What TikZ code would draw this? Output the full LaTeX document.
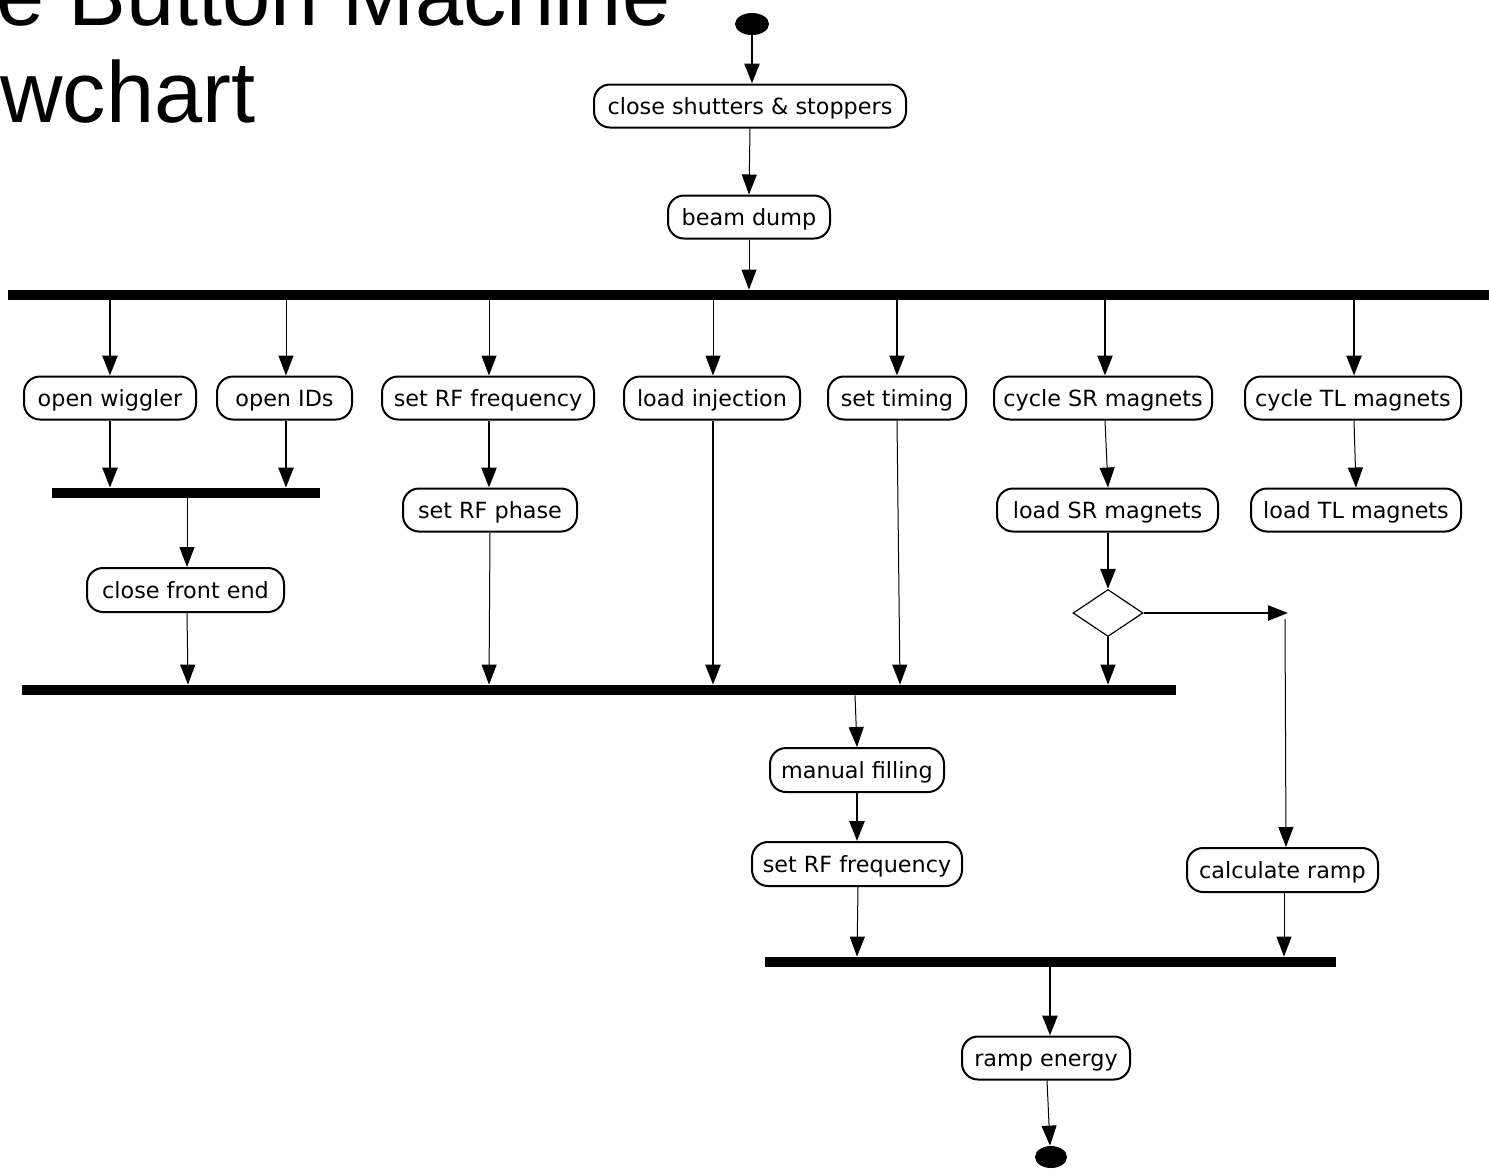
\documentclass[tikz,border=0pt]{standalone}
\usepackage{fontspec}
\usetikzlibrary{shapes.geometric,arrows.meta}
\newfontfamily\nodefont{DejaVu Sans}
\newfontfamily\titlefont{Liberation Sans}

\tikzset{
  act/.style={draw, line width=1pt, rounded corners=8pt, minimum height=21.5pt,
              inner sep=0pt, text height=9.2pt, text depth=0.6pt, fill=white,
              font=\nodefont\fontsize{11.15}{13}\selectfont},
  syncbar/.style={fill=black, draw=none, minimum height=5pt, inner sep=0pt},
  dot/.style={ellipse, fill=black, inner sep=0pt},
  choice/.style={diamond, draw, line width=0.6pt, inner sep=0pt},
  flow/.style={-{Triangle[length=10pt,width=7.5pt]}},
  heavy/.style={flow, line width=1.25pt},
  light/.style={flow, line width=0.5pt},
}

\begin{document}
\begin{tikzpicture}[x=0.5pt, y=-0.5pt]
\useasboundingbox (0,0) rectangle (1489,1174);
\clip (0,0) rectangle (1489,1174);

% heading
\node[anchor=base west, inner sep=0pt, font=\titlefont\fontsize{43.3}{52}\selectfont] (t1) at (-4,25) {e Button Machine};
\node[anchor=base west, inner sep=0pt, font=\titlefont\fontsize{43.3}{52}\selectfont] (t2) at (0,122) {wchart};

% start and stop
\node[dot, minimum width=17pt, minimum height=11pt] (start) at (752,24) {};
\node[dot, minimum width=16pt, minimum height=11pt] (stop) at (1051,1157) {};

% activities
\node[act, minimum width=156pt] (close) at (750,106) {close shutters \& stoppers};
\node[act, minimum width=81pt] (dump) at (749,217) {beam dump};

\node[act, minimum width=86pt] (wig) at (110,398) {open wiggler};
\node[act, minimum width=67.5pt] (ids) at (284.5,398) {open IDs};
\node[act, minimum width=106pt] (rff) at (488,398) {set RF frequency};
\node[act, minimum width=88pt] (inj) at (712,398) {load injection};
\node[act, minimum width=69pt] (tim) at (897,398) {set timing};
\node[act, minimum width=109pt] (csr) at (1103,398) {cycle SR magnets};
\node[act, minimum width=108pt] (ctl) at (1353,398) {cycle TL magnets};

\node[act, minimum width=87pt] (rfp) at (490,510) {set RF phase};
\node[act, minimum width=110.5pt] (lsr) at (1107.5,510) {load SR magnets};
\node[act, minimum width=105pt] (ltl) at (1356,510) {load TL magnets};

\node[act, minimum width=98.5pt, minimum height=22pt] (cfe) at (185.5,590) {close front end};
\node[choice, minimum width=35pt, minimum height=23.5pt] (dec) at (1108,613) {};
\coordinate (turn) at (1288,613);

\node[act, minimum width=87pt, minimum height=22pt] (mf) at (857,770) {manual filling};
\node[act, minimum width=105pt, minimum height=22pt] (rff2) at (857,864) {set RF frequency};
\node[act, minimum width=95.5pt, minimum height=22pt] (ramp) at (1282.5,870) {calculate ramp};
\node[act, minimum width=84pt] (energy) at (1046,1058) {ramp energy};

% fork / join bars
\node[syncbar, minimum width=740.5pt] (b1) at (748.5,295) {};
\node[syncbar, minimum width=134pt] (b2) at (186,493) {};
\node[syncbar, minimum width=577pt] (b3) at (599,690) {};
\node[syncbar, minimum width=285.5pt] (b4) at (1050.5,962) {};

% flows
\draw[heavy] (start) -- (close.north -| start);
\draw[light] (close.south) -- (dump.north);
\draw[light] (dump.south) -- (dump.south |- b1.north);

\draw[heavy] (b1.south -| wig.north) -- (wig.north);
\draw[light] (b1.south -| 286,0) -- (ids.north -| 286,0);
\draw[light] (b1.south -| 489,0) -- (rff.north -| 489,0);
\draw[light] (b1.south -| 713,0) -- (inj.north -| 713,0);
\draw[heavy] (b1.south -| tim.north) -- (tim.north);
\draw[heavy] (b1.south -| 1105,0) -- (csr.north -| 1105,0);
\draw[heavy] (b1.south -| 1354,0) -- (ctl.north -| 1354,0);

\draw[heavy] (wig.south) -- (wig.south |- b2.north);
\draw[heavy] (ids.south -| 286,0) -- (b2.north -| 286,0);
\draw[heavy] (rff.south -| 489,0) -- (rfp.north -| 489,0);
\draw[light] (csr.south -| 1105,0) -- (lsr.north -| 1108,0);
\draw[light] (ctl.south -| 1354,0) -- (ltl.north -| 1356,0);

\draw[light] (b2.south -| 187,0) -- (cfe.north -| 187,0);
\draw[light] (cfe.south -| 187,0) -- (b3.north -| 188,0);
\draw[light] (rfp.south -| 490,0) -- (b3.north -| 489,0);
\draw[heavy] (inj.south -| 713,0) -- (b3.north -| 713,0);
\draw[light] (tim.south -| 897,0) -- (b3.north -| 900,0);
\draw[heavy] (lsr.south -| 1108,0) -- (dec.north);
\draw[light, line width=0.7pt] (dec.south) -- (dec.south |- b3.north);
\draw[heavy] (dec.east) -- (turn);
\draw[light] (1285,619) -- (ramp.north -| 1286,0);

\draw[light] (b3.south -| 855,0) -- (mf.north -| 857,0);
\draw[heavy] (mf.south) -- (rff2.north);
\draw[light] (rff2.south -| 858,0) -- (b4.north -| 857,0);
\draw[light] (ramp.south -| 1284,0) -- (b4.north -| 1284,0);
\draw[heavy] (b4.south -| 1050,0) -- (energy.north -| 1050,0);
\draw[light] (energy.south -| 1047,0) -- (stop.north -| 1050,0);
\end{tikzpicture}
\end{document}
